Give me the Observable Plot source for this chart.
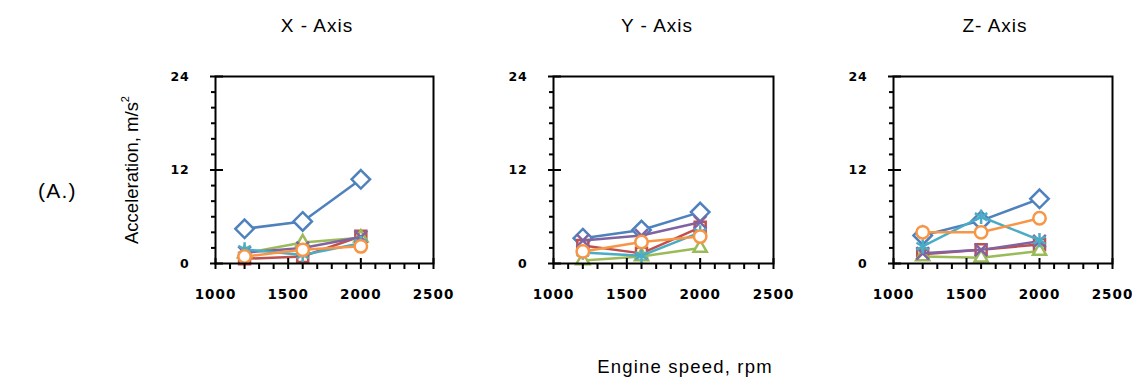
<!DOCTYPE html>
<html>
<head>
<meta charset="utf-8">
<script src="https://cdn.jsdelivr.net/npm/d3@7"></script>
<script src="https://cdn.jsdelivr.net/npm/@observablehq/plot@0.6"></script>
<style>
  body { margin: 0; background: #fff; }
  #chart { position: relative; width: 1132px; height: 379px; overflow: hidden; background: #fff; }
  #chart svg.panel { position: absolute; top: 0; overflow: visible; }
  #overlay { position: absolute; left: 0; top: 0; font-family: "Liberation Sans", Arial, sans-serif; }
  #chart [aria-label="x-axis tick label"] { letter-spacing: 1px; }
  #chart [aria-label="y-axis tick label"] { letter-spacing: 0.8px; }
</style>
</head>
<body>
<div id="chart"></div>
<script>
// ---- data ----
const engineSpeeds = [1200, 1600, 2000];
const panelTitles = ["X - Axis", "Y - Axis", "Z- Axis"];
const seriesNames = ["Series 1", "Series 2", "Series 3", "Series 4", "Series 5", "Series 6"];
// values per series (order: diamond, square, triangle, x, asterisk, circle)
const xAxisValues = [
  [4.45, 5.4, 10.8],
  [0.6, 0.9, 3.5],
  [1.3, 2.7, 3.3],
  [1.4, 2.0, 3.4],
  [1.8, 1.1, 2.6],
  [0.9, 1.75, 2.2]
];
const yAxisValues = [
  [3.25, 4.3, 6.6],
  [2.3, 1.3, 4.65],
  [0.4, 0.9, 2.0],
  [2.95, 3.6, 5.3],
  [1.4, 1.0, 4.0],
  [1.55, 2.75, 3.45]
];
const zAxisValues = [
  [3.6, 5.5, 8.3],
  [1.2, 1.75, 2.45],
  [0.9, 0.75, 1.6],
  [1.3, 1.75, 2.85],
  [2.2, 6.0, 3.0],
  [4.0, 4.0, 5.8]
];
const xTickLabels = [1000, 1500, 2000, 2500];
const xMinorTicks = [1100, 1200, 1300, 1400, 1600, 1700, 1800, 1900, 2100, 2200, 2300, 2400];
const yTickLabels = [0, 12, 24];
const yMinorTicks = [2, 4, 6, 8, 10, 14, 16, 18, 20, 22];

// ---- styles ----
const seriesColors = ["#4F81BD", "#C0504D", "#9BBB59", "#8064A2", "#4BACC6", "#F79646"];
const seriesSymbols = ["diamond2", "square2", "triangle2", "times", "asterisk", "circle"];
const seriesRadius = [8.3, 7, 6.3, 5.8, 6.8, 6.2];

const panelValues = [xAxisValues, yAxisValues, zAxisValues];
const panelAxisLeft = [215, 553, 893];
const panelInnerWidth = [218, 220, 219];
const mL = 40, mR = 30, mT = 76, mB = 116, H = 379;

const chart = document.getElementById("chart");

panelValues.forEach((vals, p) => {
  const rows = [];
  vals.forEach((arr, s) => arr.forEach((v, i) => rows.push({series: seriesNames[s], s, speed: engineSpeeds[i], value: v})));
  const seriesMarks = seriesNames.flatMap((name, s) => {
    const d = rows.filter(r => r.s === s);
    return [
      Plot.line(d, {x: "speed", y: "value", stroke: seriesColors[s], strokeWidth: 2.5}),
      Plot.dot(d, {x: "speed", y: "value", symbol: () => seriesSymbols[s], r: seriesRadius[s],
                   stroke: seriesColors[s], fill: "white", strokeWidth: 2.5})
    ];
  });
  const svg = Plot.plot({
    width: mL + panelInnerWidth[p] + mR,
    height: H,
    marginLeft: mL, marginRight: mR, marginTop: mT, marginBottom: mB,
    x: {domain: [1000, 2500]},
    y: {domain: [0, 24]},
    symbol: {type: "identity"},
    style: {fontFamily: "DejaVu Sans", color: "black", background: "transparent", overflow: "visible"},
    marks: [
      ...seriesMarks,
      Plot.frame({stroke: "black", strokeWidth: 2}),
      Plot.axisY(yMinorTicks, {tickSize: 4, strokeWidth: 2, fill: "none", label: null}),
      Plot.axisY(yTickLabels, {tickSize: 13, dx: 8, strokeWidth: 2, fill: "none", label: null}),
      Plot.axisY(yTickLabels, {tickSize: 0, tickPadding: 26, fontSize: 12.5, fontWeight: "bold", tickFormat: d => String(d), label: null}),
      Plot.axisX(xMinorTicks, {tickSize: 6, strokeWidth: 2, fill: "none", label: null}),
      Plot.axisX(xTickLabels, {tickSize: 11, dy: -5, strokeWidth: 2, fill: "none", label: null}),
      Plot.axisX(xTickLabels, {tickSize: 0, tickPadding: 26, fontSize: 13.5, fontWeight: "bold", tickFormat: d => String(d), label: null})
    ]
  });
  svg.classList.add("panel");
  svg.style.left = (panelAxisLeft[p] - mL) + "px";
  chart.appendChild(svg);
});

// ---- text overlay ----
const titleCenters = [317, 657, 995];
const ns = "http://www.w3.org/2000/svg";
const ov = document.createElementNS(ns, "svg");
ov.setAttribute("id", "overlay");
ov.setAttribute("width", 1132);
ov.setAttribute("height", 379);
let html = "";
panelTitles.forEach((t, i) => {
  html += `<text x="${titleCenters[i]}" y="32" text-anchor="middle" font-size="19" letter-spacing="1" fill="#000">${t}</text>`;
});
html += `<text x="38" y="198" font-size="21" letter-spacing="1.2" fill="#000">(A.)</text>`;
html += `<text transform="translate(138,170) rotate(-90)" text-anchor="middle" font-size="18.5" fill="#000">Acceleration, m/s<tspan font-size="11" dy="-9">2</tspan></text>`;
html += `<text x="685" y="373" text-anchor="middle" font-size="18.5" letter-spacing="1.2" fill="#000">Engine speed, rpm</text>`;
ov.innerHTML = html;
chart.appendChild(ov);
</script>
</body>
</html>
